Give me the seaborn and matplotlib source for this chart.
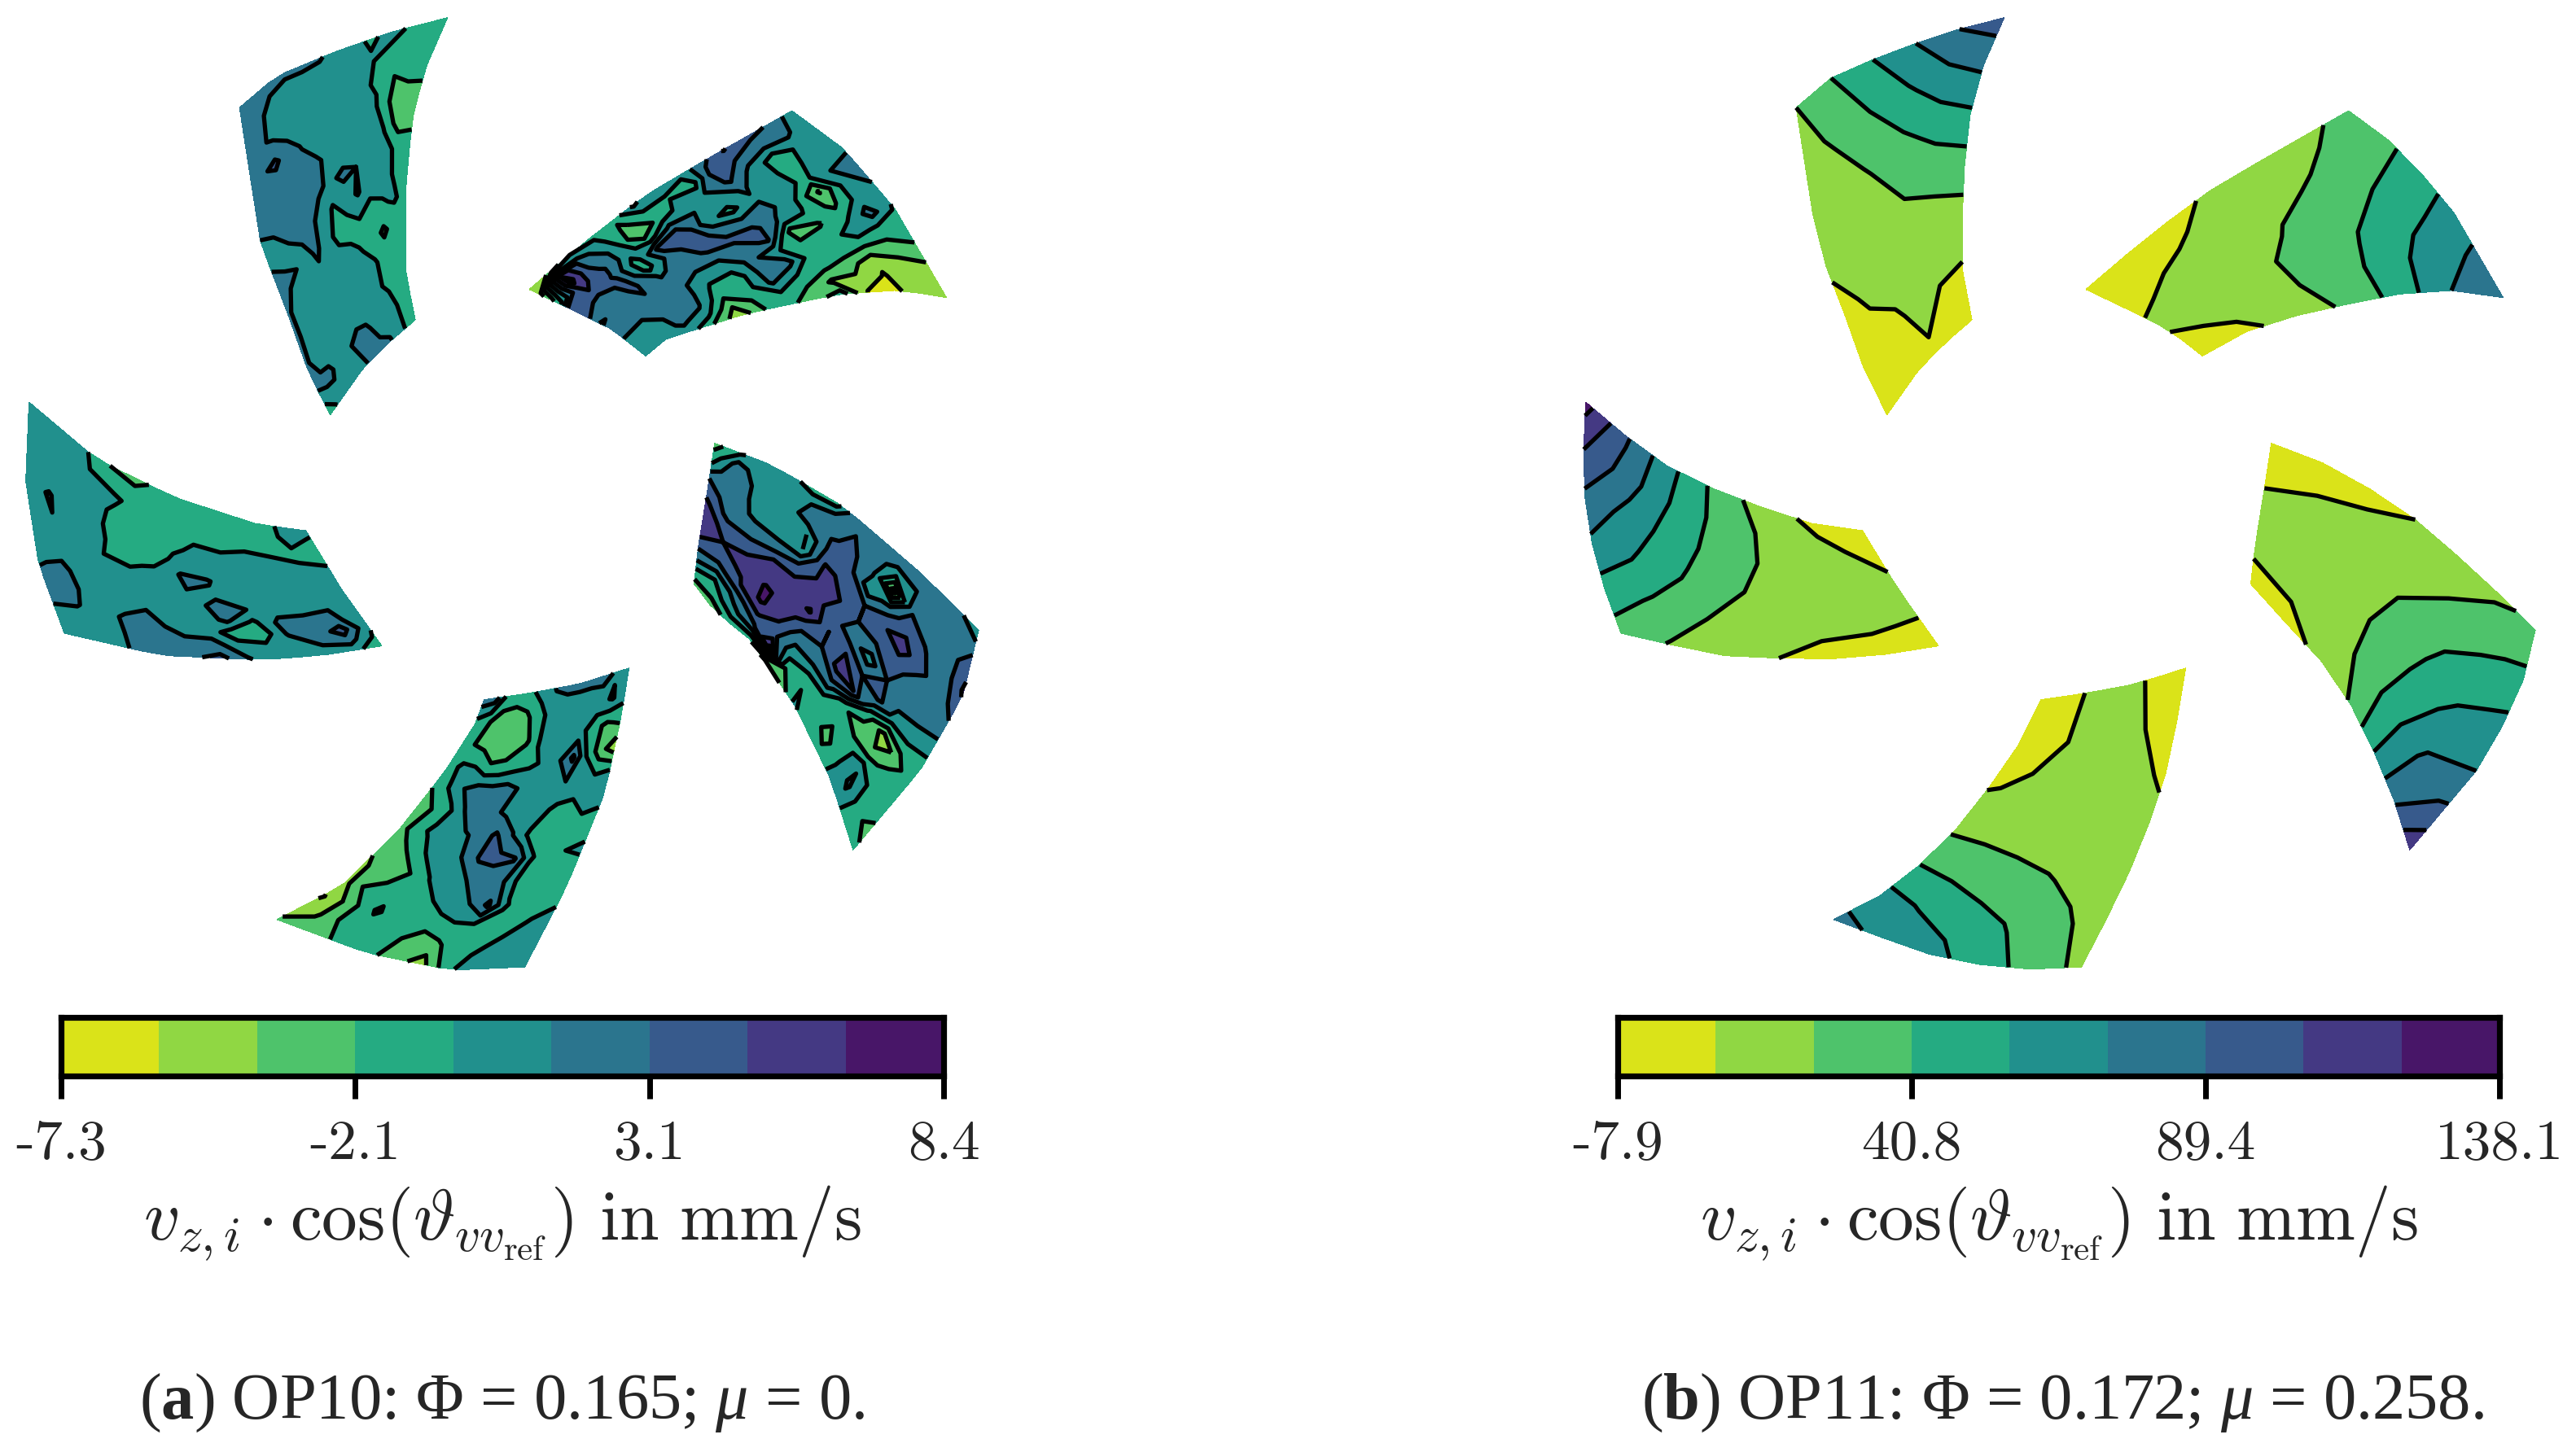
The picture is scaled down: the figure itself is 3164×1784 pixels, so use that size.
import numpy as np
import matplotlib
matplotlib.use("Agg")
import matplotlib.pyplot as plt
import seaborn as sns

sns.set_theme(style="white")
plt.rcParams.update({
    "font.family": ["Liberation Serif"],
    "mathtext.fontset": "custom",
    "mathtext.rm": "Liberation Serif",
    "mathtext.it": "Liberation Serif:italic",
    "mathtext.bf": "Liberation Serif:bold",
})

W, H = 3164, 1784
SCALE_X = 1240 / 1568
SCALE_Y = 1220 / 1568
PANEL_SHIFT = 1912       # panel b sits this many px right of panel a

# colour bars
range_a = (-7.3, 8.4)
range_b = (-7.9, 138.1)
ticks_a = ["-7.3", "-2.1", "3.1", "8.4"]
ticks_b = ["-7.9", "40.8", "89.4", "138.1"]

# passage outlines: outer, left, right, inner side
outline_1 = ([(372, 170), (430, 120), (520, 82), (610, 50), (695, 28)],
             [(372, 170), (385, 255), (405, 385), (445, 490), (480, 590), (513, 655)],
             [(695, 28), (660, 110), (640, 190), (630, 300), (630, 430), (645, 505)],
             [(513, 655), (565, 580), (605, 540), (645, 505)])
outline_2 = ([(1230, 175), (1310, 235), (1390, 330), (1470, 470)],
             [(1230, 175), (1100, 250), (1000, 310), (905, 385), (822, 457)],
             [(1470, 470), (1400, 458), (1300, 465), (1160, 495), (1035, 535), (1003, 562)],
             [(822, 457), (890, 490), (950, 520), (1003, 562)])
outline_3 = ([(1520, 995), (1495, 1100), (1430, 1215), (1325, 1342)],
             [(1520, 995), (1430, 905), (1310, 800), (1200, 735), (1110, 700)],
             [(1325, 1342), (1290, 1230), (1235, 1115), (1165, 1010), (1110, 965), (1078, 922)],
             [(1110, 700), (1098, 780), (1085, 860), (1078, 922)])
outline_4 = ([(815, 1527), (700, 1532), (570, 1505), (430, 1452)],
             [(815, 1527), (880, 1400), (940, 1250), (965, 1130), (977, 1055)],
             [(430, 1452), (530, 1400), (620, 1310), (690, 1220), (740, 1140), (752, 1105)],
             [(977, 1055), (900, 1080), (820, 1095), (752, 1105)])
outline_5 = ([(100, 1000), (60, 890), (40, 760), (45, 635)],
             [(100, 1000), (250, 1035), (405, 1042), (500, 1035), (593, 1020)],
             [(45, 635), (150, 725), (270, 785), (400, 828), (475, 838)],
             [(593, 1020), (530, 930), (475, 838)])
outlines = [outline_1, outline_2, outline_3, outline_4, outline_5]

# field values in colour band units (0 = bottom of yellow, 9 = top of purple)
# rows go outer to inner, columns go across the passage
a1 = [[5.4, 5.4, 5.4, 5.2, 5.2, 5.1, 4.5, 4.1, 3.9, 4.3, 3.9, 3.4, 3.2],
      [5.4, 5.4, 4.6, 4.4, 4.4, 4.4, 4.4, 4.4, 4.1, 3.8, 3.9, 3.6, 3.2],
      [5.9, 5.2, 4.8, 4.4, 4.4, 4.9, 4.4, 4.4, 4.2, 3.8, 3.0, 3.3, 3.5],
      [5.4, 5.9, 6.2, 5.5, 4.9, 4.4, 4.4, 4.4, 4.8, 4.2, 3.0, 2.6, 2.7],
      [5.3, 5.3, 5.4, 5.9, 5.5, 5.2, 4.7, 4.4, 4.4, 4.9, 3.9, 2.4, 2.6],
      [5.0, 5.3, 5.3, 5.4, 5.9, 5.2, 4.8, 5.2, 5.0, 4.4, 4.4, 3.8, 3.3],
      [4.9, 4.4, 5.0, 5.3, 5.3, 4.6, 3.9, 4.5, 5.1, 4.4, 4.3, 3.9, 3.3],
      [5.3, 5.3, 5.0, 4.6, 5.2, 4.5, 3.7, 3.6, 4.0, 3.6, 3.9, 4.1, 3.7],
      [5.3, 4.4, 4.4, 4.4, 4.7, 4.9, 4.4, 4.2, 3.9, 3.5, 2.8, 3.5, 3.6],
      [5.3, 4.6, 4.4, 4.4, 4.4, 4.4, 4.4, 4.4, 4.3, 4.1, 3.6, 3.6, 3.4],
      [5.3, 4.5, 4.4, 4.4, 4.7, 4.6, 4.4, 4.3, 4.2, 4.1, 3.9, 3.4, 3.4],
      [5.0, 5.3, 5.2, 4.6, 4.5, 5.0, 5.3, 5.2, 4.6, 4.4, 4.2, 3.8, 3.4],
      [3.2, 3.9, 4.5, 4.6, 4.4, 4.6, 5.0, 5.3, 5.3, 5.1, 4.3, 3.9, 3.6]]
a2 = [[4.3, 4.3, 4.4, 4.9, 5.2, 5.2, 4.4, 3.8, 3.7, 2.9, 2.0, 1.6, 1.0],
      [5.9, 5.2, 4.3, 5.0, 5.0, 4.3, 4.3, 5.5, 3.6, 2.7, 1.8, 1.9, 2.0],
      [6.3, 5.3, 3.4, 3.4, 3.8, 1.9, 2.7, 3.7, 4.6, 3.0, 1.3, 0.9, 0.6],
      [7.1, 5.9, 4.6, 4.4, 4.3, 4.2, 3.9, 2.9, 3.4, 3.6, 2.4, 1.8, 0.9],
      [5.5, 6.7, 6.2, 5.1, 4.9, 5.3, 4.8, 2.4, 3.2, 3.3, 3.2, 1.8, 3.5],
      [4.3, 3.3, 5.0, 4.6, 3.7, 5.2, 6.3, 6.2, 4.1, 5.4, 4.0, 3.0, 2.7],
      [4.4, 3.9, 4.4, 5.0, 4.3, 5.6, 6.2, 5.6, 5.3, 5.4, 5.2, 3.9, 3.1],
      [5.2, 3.8, 3.3, 5.3, 7.0, 6.6, 6.2, 5.1, 4.4, 3.4, 3.6, 3.2, 3.0],
      [3.2, 2.8, 2.0, 3.4, 6.4, 5.5, 5.2, 5.2, 4.4, 3.8, 3.2, 2.1, 1.3],
      [3.9, 4.2, 4.8, 4.5, 3.5, 3.6, 4.9, 5.2, 5.3, 5.4, 5.2, 4.4, 2.9],
      [4.0, 5.5, 5.6, 6.2, 5.9, 6.2, 6.2, 6.0, 5.3, 5.2, 5.2, 5.2, 4.5],
      [2.2, 8.0, 8.4, 7.4, 6.9, 5.7, 5.4, 5.3, 5.2, 5.1, 4.7, 4.4, 4.2],
      [1.0, 1.6, 2.5, 3.6, 6.5, 6.5, 6.0, 4.9, 5.2, 5.1, 4.9, 4.4, 4.3]]
a3 = [[4.0, 5.8, 6.8, 7.2, 6.4, 5.6, 4.4, 3.6, 3.9, 3.6, 3.3, 2.5, 3.4],
      [5.3, 5.2, 5.4, 5.4, 5.3, 5.3, 5.0, 4.0, 2.3, 3.6, 3.6, 3.5, 3.0],
      [6.0, 6.0, 5.4, 5.9, 6.4, 5.4, 5.4, 4.5, 1.4, 2.3, 4.9, 5.2, 4.5],
      [5.9, 5.0, 5.8, 6.6, 7.4, 6.6, 6.0, 6.4, 3.6, 2.5, 3.5, 3.9, 4.2],
      [6.0, 4.5, 1.5, 5.5, 6.9, 6.1, 4.5, 6.0, 7.0, 3.2, 3.2, 2.6, 3.4],
      [6.0, 5.5, 5.2, 4.3, 6.0, 6.0, 5.5, 7.0, 7.3, 5.6, 3.5, 3.6, 3.0],
      [6.0, 6.0, 6.2, 6.3, 6.9, 7.0, 6.4, 6.0, 6.0, 5.4, 3.8, 4.0, 4.3],
      [3.5, 5.7, 5.9, 6.3, 7.1, 7.2, 7.5, 8.1, 6.4, 5.3, 4.4, 3.0, 2.0],
      [3.5, 5.0, 5.5, 4.0, 4.0, 6.0, 7.1, 7.5, 7.8, 7.1, 6.3, 8.2, 1.5],
      [4.4, 4.0, 4.4, 5.0, 4.6, 5.3, 7.0, 7.1, 8.1, 8.2, 7.1, 5.8, 3.2],
      [4.7, 4.2, 4.4, 4.4, 4.8, 5.5, 6.3, 7.2, 7.1, 6.9, 5.4, 4.7, 3.4],
      [3.8, 5.5, 6.0, 5.9, 5.5, 5.6, 6.8, 7.0, 6.8, 5.5, 4.0, 3.4, 2.5],
      [2.6, 3.3, 4.3, 6.0, 6.5, 7.3, 7.3, 7.2, 7.0, 6.0, 5.0, 3.6, 2.6]]
a4 = [[4.4, 4.4, 4.4, 4.4, 3.1, 1.4, 2.5, 3.0, 3.3, 3.2, 2.6, 2.4, 2.2],
      [5.0, 4.4, 4.3, 3.8, 3.5, 2.8, 2.5, 3.2, 3.3, 3.3, 3.0, 1.9, 1.4],
      [4.7, 4.1, 3.6, 3.7, 3.7, 3.9, 3.5, 3.4, 3.2, 4.2, 3.1, 1.9, 0.9],
      [3.4, 3.4, 3.4, 4.1, 6.2, 5.0, 4.7, 4.0, 3.4, 3.5, 3.4, 3.0, 1.7],
      [3.3, 3.5, 3.4, 3.7, 5.2, 5.4, 5.0, 4.4, 4.1, 3.2, 2.4, 2.7, 1.7],
      [4.3, 4.0, 3.4, 4.1, 6.1, 6.3, 6.2, 5.1, 4.5, 4.3, 3.4, 2.6, 2.3],
      [3.0, 3.3, 3.4, 3.4, 3.9, 5.1, 6.2, 5.2, 4.9, 4.4, 4.2, 3.5, 2.6],
      [4.6, 4.7, 3.7, 3.8, 4.3, 4.3, 4.7, 5.3, 5.5, 4.9, 3.6, 3.0, 2.5],
      [4.3, 4.1, 5.0, 4.9, 4.4, 4.4, 4.9, 5.4, 5.3, 5.4, 4.9, 3.9, 3.0],
      [1.3, 2.4, 3.9, 6.2, 4.9, 4.2, 3.8, 3.5, 3.2, 3.1, 4.0, 4.2, 3.4],
      [3.2, 2.8, 3.3, 4.4, 4.4, 4.2, 4.1, 2.9, 2.4, 2.4, 2.6, 3.0, 3.3],
      [4.4, 5.1, 4.7, 4.4, 4.4, 4.4, 4.3, 3.6, 2.7, 2.4, 2.6, 3.1, 3.6],
      [4.3, 4.9, 5.2, 5.3, 5.3, 5.3, 5.1, 4.4, 3.9, 3.6, 3.6, 5.5, 5.6]]
a5 = [[4.4, 4.7, 5.2, 5.2, 4.9, 4.4, 4.4, 4.4, 4.4, 4.4, 4.4, 4.4, 4.4],
      [4.4, 4.4, 5.1, 5.3, 5.2, 4.7, 4.5, 5.0, 5.1, 4.4, 4.3, 4.3, 4.3],
      [4.7, 4.4, 4.4, 4.5, 4.5, 4.3, 4.4, 4.4, 4.3, 4.4, 4.3, 4.3, 4.2],
      [5.3, 5.4, 5.3, 4.4, 4.4, 4.3, 4.0, 4.2, 4.3, 4.4, 4.4, 4.0, 4.0],
      [5.6, 5.3, 5.3, 5.0, 4.4, 4.3, 3.9, 3.4, 3.4, 3.7, 4.2, 3.5, 3.0],
      [5.9, 5.3, 4.6, 4.4, 4.7, 4.4, 4.1, 3.5, 3.3, 3.3, 3.5, 3.6, 2.2],
      [6.3, 5.3, 4.6, 4.5, 4.7, 5.0, 5.1, 4.2, 3.8, 3.3, 3.3, 3.3, 3.4],
      [5.1, 4.5, 3.4, 5.2, 5.3, 4.8, 5.1, 4.1, 4.2, 3.9, 3.6, 3.4, 3.4],
      [4.4, 4.3, 3.3, 3.8, 5.0, 4.4, 4.3, 4.3, 4.3, 3.7, 3.4, 3.3, 3.4],
      [4.4, 4.4, 5.1, 5.3, 4.6, 4.4, 4.3, 4.3, 4.3, 4.0, 3.8, 3.3, 3.3],
      [4.4, 5.1, 5.3, 5.2, 4.9, 4.4, 4.4, 4.4, 4.4, 4.0, 3.6, 3.3, 3.3],
      [4.3, 5.5, 6.5, 5.3, 5.0, 4.5, 4.4, 4.4, 4.3, 3.8, 4.0, 4.3, 4.2],
      [3.3, 3.8, 4.1, 4.2, 4.4, 4.4, 4.4, 4.4, 4.2, 3.7, 3.4, 3.9, 4.2]]

b1 = [[2.0, 3.0, 4.0, 5.0, 6.0, 6.5],
      [1.6, 2.2, 3.0, 3.8, 4.6, 5.2],
      [1.3, 1.6, 2.1, 2.7, 3.3, 3.8],
      [1.1, 1.3, 1.5, 2.0, 2.2, 2.5],
      [0.8, 1.1, 1.3, 1.4, 1.5, 1.6],
      [0.5, 0.8, 0.9, 1.2, 1.0, 0.9],
      [0.3, 0.4, 0.5, 0.9, 0.6, 0.6]]
b2 = [[2.3, 2.8, 3.6, 4.4, 5.2, 5.9],
      [1.75, 2.3, 3.0, 3.7, 4.4, 5.0],
      [1.4, 1.8, 2.4, 2.9, 3.2, 3.4],
      [1.1, 1.4, 1.9, 2.2, 2.3, 2.2],
      [0.8, 1.1, 1.5, 1.8, 1.7, 1.4],
      [0.55, 0.85, 1.2, 1.4, 1.2, 0.8],
      [0.3, 0.5, 0.85, 1.2, 0.8, 0.5]]
b3 = [[2.2, 3.3, 4.3, 5.0, 6.2, 7.8],
      [1.8, 2.7, 3.5, 4.4, 5.2, 5.8],
      [1.5, 2.0, 2.8, 3.2, 3.7, 4.0],
      [1.0, 1.7, 2.0, 2.3, 2.3, 2.1],
      [0.75, 1.2, 1.4, 1.5, 1.5, 1.15],
      [0.5, 1.0, 1.2, 1.2, 1.1, 0.8],
      [0.3, 0.7, 1.2, 1.3, 1.05, 0.6]]
b4 = [[1.7, 2.7, 3.4, 4.4, 4.8, 5.3],
      [1.5, 2.2, 2.9, 3.4, 3.9, 4.4],
      [1.3, 1.7, 2.1, 2.4, 2.7, 3.0],
      [1.15, 1.4, 1.5, 1.6, 1.7, 1.8],
      [0.9, 1.2, 1.3, 1.3, 1.1, 0.95],
      [0.6, 1.0, 1.2, 1.15, 0.8, 0.6],
      [0.4, 0.85, 1.2, 1.2, 0.8, 0.4]]
b5 = [[2.6, 3.6, 4.8, 5.8, 7.0, 8.4],
      [1.9, 2.8, 3.8, 4.5, 5.5, 6.2],
      [1.4, 2.0, 2.8, 3.4, 3.9, 4.4],
      [1.0, 1.5, 2.0, 2.3, 2.6, 2.8],
      [0.7, 1.2, 1.5, 1.7, 1.7, 1.5],
      [0.6, 1.1, 1.5, 1.5, 1.2, 0.8],
      [0.5, 0.9, 1.3, 1.1, 0.7, 0.5]]

fields_a = [a1, a2, a3, a4, a5]
fields_b = [b1, b2, b3, b4, b5]

cmap = sns.color_palette("viridis_r", as_cmap=True)


def resample(points, n):
    pts = np.array(points, dtype=float)
    dist = np.r_[0, np.cumsum(np.hypot(*np.diff(pts, axis=0).T))]
    t = np.linspace(0, dist[-1], n)
    return np.c_[np.interp(t, dist, pts[:, 0]), np.interp(t, dist, pts[:, 1])]


def passage_mesh(outline, nrow, ncol):
    """Coons patch between the four curved sides of a passage."""
    outer, left, right, inner = outline
    top = resample(outer, ncol)
    bot = resample(inner, ncol)
    lft = resample(left, nrow)
    rgt = resample(right, nrow)
    u = np.linspace(0, 1, nrow)[:, None, None]
    v = np.linspace(0, 1, ncol)[None, :, None]
    mesh = ((1 - u) * top[None, :, :] + u * bot[None, :, :]
            + (1 - v) * lft[:, None, :] + v * rgt[:, None, :]
            - (1 - u) * (1 - v) * top[0] - (1 - u) * v * top[-1]
            - u * (1 - v) * bot[0] - u * v * bot[-1])
    return mesh[..., 0] * SCALE_X, mesh[..., 1] * SCALE_Y


def draw_panel(ax, fields, vrange, shift):
    levels = np.linspace(vrange[0], vrange[1], 10)
    step = levels[1] - levels[0]
    for outline, field in zip(outlines, fields):
        field = np.array(field)
        X, Y = passage_mesh(outline, *field.shape)
        Z = vrange[0] + field * step
        ax.contourf(X + shift, Y, Z, levels=levels, cmap=cmap)
        ax.contour(X + shift, Y, Z, levels=levels[1:-1], colors="black",
                   linewidths=1.9, linestyles="solid")


def draw_colorbar(fig, x0, x1, vrange, labels):
    levels = np.linspace(vrange[0], vrange[1], 10)
    mids = (levels[:-1] + levels[1:]) / 2
    cax = fig.add_axes([x0 / W, 1 - 1322 / H, (x1 - x0) / W, 72 / H])
    sns.heatmap(mids[None, :], ax=cax, cmap=cmap, vmin=vrange[0], vmax=vrange[1],
                cbar=False, xticklabels=False, yticklabels=False)
    for spine in cax.spines.values():
        spine.set_visible(True)
        spine.set_color("black")
        spine.set_linewidth(2.6)
    cax.set_xticks([0, 3, 6, 9])
    cax.set_xticklabels(labels, fontfamily="cmr10", fontsize=25)
    cax.tick_params(axis="x", bottom=True, length=10, width=2.5, color="black", pad=9.5)


fig = plt.figure(figsize=(W / 200, H / 200), dpi=200)
ax = fig.add_axes([0, 0, 1, 1])
ax.set_xlim(0, W)
ax.set_ylim(H, 0)
ax.axis("off")

draw_panel(ax, fields_a, range_a, 0)
draw_panel(ax, fields_b, range_b, PANEL_SHIFT)

draw_colorbar(fig, 75, 1159, range_a, ticks_a)
draw_colorbar(fig, 1987, 3070, range_b, ticks_b)

label = r"$v_{z,i}\cdot\cos(\vartheta_{vv_{\mathrm{ref}}})\ \mathrm{in\ mm/s}$"
for xc in (617, 2529):
    fig.text(xc / W, 1 - 1503 / H, label, ha="center", va="center", fontsize=31.5, math_fontfamily="cm")

fig.text(617 / W, 1 - 1724 / H, r"($\mathbf{a}$) OP10: $\Phi$ = 0.165; $\mu$ = 0.",
         ha="center", va="center", fontsize=29)
fig.text(2533 / W, 1 - 1724 / H, r"($\mathbf{b}$) OP11: $\Phi$ = 0.172; $\mu$ = 0.258.",
         ha="center", va="center", fontsize=29)

fig.savefig("out.png", dpi=200, facecolor="white")
